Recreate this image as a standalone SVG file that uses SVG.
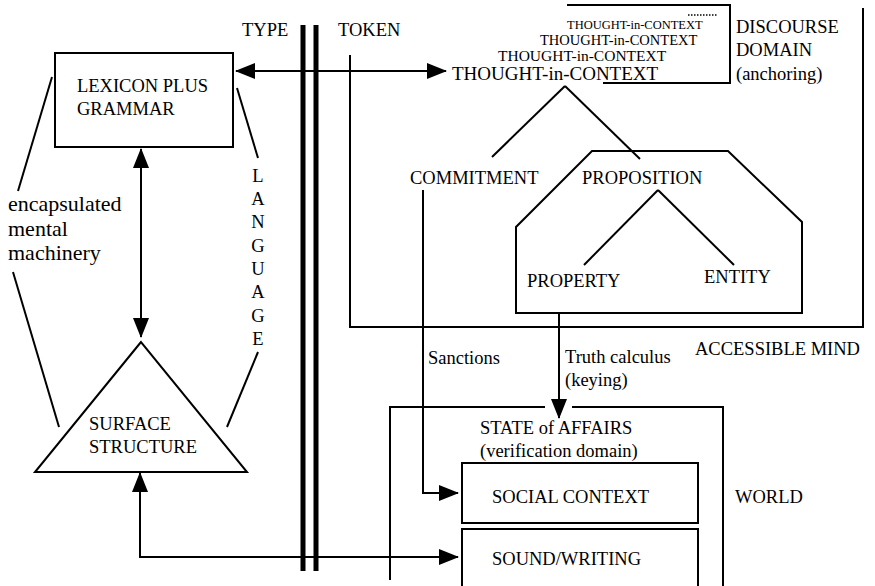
<svg xmlns="http://www.w3.org/2000/svg" width="875" height="586" viewBox="0 0 875 586">
<style>
text{font-family:"Liberation Serif","Times New Roman",serif;fill:#000;font-size:18.5px}
.ln{stroke:#000;stroke-width:2;fill:none}
.thick{stroke:#000;stroke-width:5;fill:none}
.big{font-size:22px}
</style>
<defs>
<marker id="ah" viewBox="0 0 20 16" refX="19" refY="8" markerWidth="20" markerHeight="16" markerUnits="userSpaceOnUse" orient="auto-start-reverse">
<path d="M0,0 L20,8 L0,16 z" fill="#000"/>
</marker>
</defs>
<rect width="875" height="586" fill="#fff"/>

<g id="type-token-divider">
<line class="thick" x1="303" y1="25" x2="303" y2="571"/>
<line class="thick" x1="316" y1="25" x2="316" y2="571"/>
<text x="242" y="36">TYPE</text>
<text x="338" y="36">TOKEN</text>
</g>

<g id="lexicon">
<rect class="ln" x="55" y="53" width="178" height="94"/>
<text x="77" y="92">LEXICON PLUS</text>
<text x="77" y="115">GRAMMAR</text>
</g>

<g id="surface">
<path class="ln" d="M141,342 L35,472 L247,472 Z"/>
<text x="89" y="430">SURFACE</text>
<text x="89" y="453">STRUCTURE</text>
</g>

<g id="mental-machinery">
<line class="ln" x1="52" y1="77" x2="18" y2="191"/>
<line class="ln" x1="13" y1="272" x2="59" y2="427"/>
<text class="big" x="8" y="211">encapsulated</text>
<text class="big" x="8" y="236">mental</text>
<text class="big" x="8" y="260">machinery</text>
</g>

<g id="language">
<line class="ln" x1="237" y1="88" x2="258" y2="158"/>
<line class="ln" x1="258" y1="352" x2="227" y2="427"/>
<g text-anchor="middle">
<text x="258" y="182">L</text>
<text x="258" y="205">A</text>
<text x="258" y="228">N</text>
<text x="258" y="252">G</text>
<text x="258" y="275">U</text>
<text x="258" y="298">A</text>
<text x="258" y="322">G</text>
<text x="258" y="345">E</text>
</g>
</g>

<g id="accessible-mind">
<path class="ln" d="M350,55 V327 H863 V8"/>
<text x="695" y="355">ACCESSIBLE MIND</text>
</g>

<g id="discourse-domain">
<path class="ln" d="M567,5 H730 V83 H603"/>
<line x1="688" y1="15" x2="718" y2="15" stroke="#000" stroke-width="1.5" stroke-dasharray="1.5,1.5"/>
<text x="567" y="29" style="font-size:12.5px">THOUGHT-in-CONTEXT</text>
<text x="540" y="45" style="font-size:14.5px">THOUGHT-in-CONTEXT</text>
<text x="498" y="61" style="font-size:15.5px">THOUGHT-in-CONTEXT</text>
<text x="736" y="33">DISCOURSE</text>
<text x="736" y="56">DOMAIN</text>
<text x="736" y="80">(anchoring)</text>
</g>

<g id="thought">
<text x="452" y="80" style="font-size:19px">THOUGHT-in-CONTEXT</text>
</g>

<g id="commitment">
<text x="410" y="184">COMMITMENT</text>
</g>

<g id="proposition">
<path class="ln" d="M516,313 V227 L592,151 H728 L802,222 V313 Z"/>
<text x="582" y="184">PROPOSITION</text>
</g>

<g id="property">
<text x="527" y="287">PROPERTY</text>
</g>

<g id="entity">
<text x="704" y="283">ENTITY</text>
</g>

<g id="world">
<path class="ln" d="M390,580 V407 H545 M572,407 H723 V586"/>
<text x="480" y="434">STATE of AFFAIRS</text>
<text x="480" y="457">(verification domain)</text>
<text x="735" y="503">WORLD</text>
</g>

<g id="social-context">
<rect class="ln" x="462" y="463" width="236" height="60"/>
<text x="492" y="503">SOCIAL CONTEXT</text>
</g>

<g id="sound-writing">
<path class="ln" d="M462,590 V529 H698 V590"/>
<text x="492" y="565">SOUND/WRITING</text>
</g>

<g id="connectors">
<path class="ln" d="M236,71 H446" marker-start="url(#ah)" marker-end="url(#ah)"/>
<path class="ln" d="M141,149 V337" marker-start="url(#ah)" marker-end="url(#ah)"/>
<path class="ln" d="M140,473 V557 H458" marker-start="url(#ah)" marker-end="url(#ah)"/>
<path class="ln" d="M423,190 V493 H458" marker-end="url(#ah)"/>
<path class="ln" d="M559,313 V418" marker-end="url(#ah)"/>
<line class="ln" x1="565" y1="86" x2="492" y2="157"/>
<line class="ln" x1="565" y1="86" x2="640" y2="159"/>
<line class="ln" x1="658" y1="190" x2="584" y2="265"/>
<line class="ln" x1="658" y1="190" x2="734" y2="265"/>
<text x="428" y="364">Sanctions</text>
<text x="565" y="363">Truth calculus</text>
<text x="565" y="386">(keying)</text>
</g>
</svg>
